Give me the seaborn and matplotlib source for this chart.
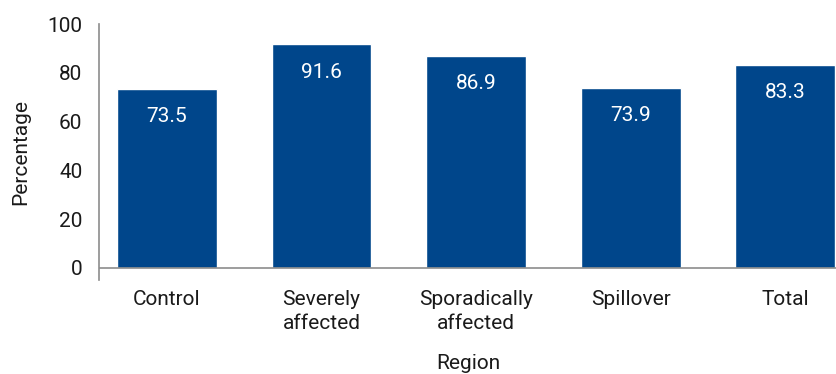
import matplotlib
matplotlib.use("Agg")
import matplotlib.pyplot as plt
import seaborn as sns
import pandas as pd

regions = ["Control", "Severely\naffected", "Sporadically\naffected", "Spillover", "Total"]
percentages = [73.5, 91.6, 86.9, 73.9, 83.3]

bar_color = "#00468B"
axis_color = "#8C8C8C"
text_color = "#1A1A1A"
fs = 15

sns.set_theme(style="white")
plt.rcParams["font.family"] = ["Roboto", "DejaVu Sans"]

df = pd.DataFrame({"Region": regions, "Percentage": percentages})

fig = plt.figure(figsize=(8.37, 3.74), dpi=100)
ax = fig.add_axes([99 / 837, 94 / 374, (837 - 99) / 837, (280 - 24) / 374])

sns.barplot(data=df, x="Region", y="Percentage", color=bar_color,
            saturation=1, width=0.645, ax=ax)

for patch, val in zip(ax.patches, percentages):
    ax.annotate(f"{val:.1f}", (patch.get_x() + patch.get_width() / 2, val),
                xytext=(0, -20), textcoords="offset points",
                ha="center", va="center", color="white", fontsize=fs)

ax.set_ylim(-5, 100)
ax.set_xlim(-0.44, 4.335)
ax.set_yticks([0, 20, 40, 60, 80, 100])
ax.tick_params(axis="both", length=0, labelsize=fs, colors=text_color)
ax.tick_params(axis="y", pad=12)
ax.tick_params(axis="x", pad=7)
for lbl in ax.get_xticklabels():
    lbl.set_linespacing(1.35)

for side in ["top", "right", "bottom"]:
    ax.spines[side].set_visible(False)
ax.spines["left"].set_color(axis_color)
ax.spines["left"].set_linewidth(1.2)
ax.axhline(0, color=axis_color, lw=1.2, zorder=3)

ax.set_xlabel("Region", fontsize=fs, color=text_color, labelpad=15)
ax.set_ylabel("Percentage", fontsize=fs, color=text_color, labelpad=12)

fig.savefig("out.png", dpi=100)
